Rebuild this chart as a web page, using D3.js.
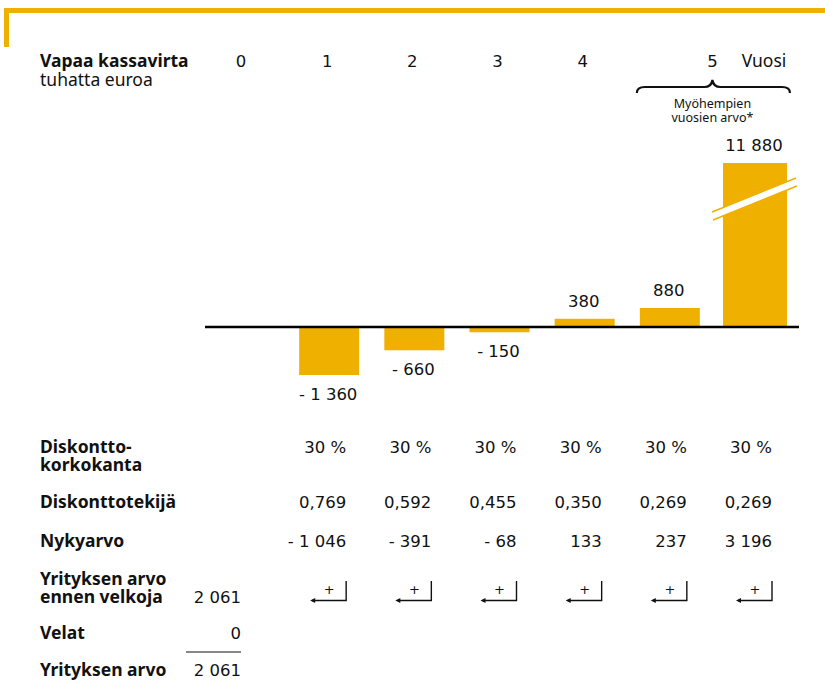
<!DOCTYPE html>
<html><head><meta charset="utf-8">
<script src="https://cdn.jsdelivr.net/npm/d3@7"></script>
<style>
html,body{margin:0;padding:0;background:#fff;}
svg text{font-family:"Noto Sans","Liberation Sans",Arial,sans-serif;fill:#111;}
svg text.num{font-family:"DejaVu Sans","Noto Sans",sans-serif;}
</style></head>
<body>
<svg id="chart" width="825" height="681"></svg>
<script>
// ---- data ----
const columns = ["0", "1", "2", "3", "4", "5", "5+"];
const headerYears = ["0", "1", "2", "3", "4", "5"];
const barColumns = ["1", "2", "3", "4", "5", "5+"];
const cashFlows = [-1360, -660, -150, 380, 880, 11880];
const discountRates = ["30 %", "30 %", "30 %", "30 %", "30 %", "30 %"];
const discountFactors = [0.769, 0.592, 0.455, 0.350, 0.269, 0.269];
const presentValues = [-1046, -391, -68, 133, 237, 3196];
const valueBeforeDebt = 2061;
const debt = 0;
const firmValue = 2061;
const rowLabels = {
  title: "Vapaa kassavirta", unit: "tuhatta euroa", year: "Vuosi",
  later: ["Myöhempien", "vuosien arvo*"],
  rate: ["Diskontto-", "korkokanta"], factor: "Diskonttotekijä",
  pv: "Nykyarvo", before: ["Yrityksen arvo", "ennen velkoja"],
  debt: "Velat", value: "Yrityksen arvo"
};

const GOLD = "#F0B000";
const FS = 17.5, NFS = 16.5;
const fi = d3.formatLocale({decimal: ",", thousands: "\u2009", grouping: [3], currency: ["", " €"], minus: "- "});
const fmtInt = v => fi.format(",d")(v).replace(/\u2009/g, " ");
const fmtDec = fi.format(".3f");

const svg = d3.select("#chart");

// frame
svg.append("line").attr("x1", 4).attr("x2", 825).attr("y1", 10.5).attr("y2", 10.5)
  .attr("stroke", GOLD).attr("stroke-width", 5);
svg.append("line").attr("x1", 6.5).attr("x2", 6.5).attr("y1", 8).attr("y2", 47)
  .attr("stroke", GOLD).attr("stroke-width", 5);

// scales
const x = d3.scalePoint().domain(columns).range([244, 755]);
const y = d3.scaleLinear().domain([-1360, 0, 880, 11880]).range([375, 327, 308, 163]);

// header
const g = svg.append("g");
g.append("text").attr("x", 40).attr("y", 67).attr("font-size", FS).attr("font-weight", "bold")
  .text(rowLabels.title);
g.append("text").attr("x", 40).attr("y", 86).attr("font-size", FS).text(rowLabels.unit);
g.selectAll("text.year").data(headerYears).join("text").attr("class", "year num")
  .attr("x", d => d === "5" ? (x("5") + x("5+")) / 2 : (d === "0" ? x(d) - 3 : x(d) - 2))
  .attr("y", 67).attr("font-size", NFS).attr("text-anchor", "middle").text(d => d);
g.append("text").attr("x", x("5+") + 9).attr("y", 67).attr("font-size", FS).attr("text-anchor", "middle")
  .text(rowLabels.year);

// brace
const bx0 = x("5") - 33, bx1 = x("5+") + 35, bm = (x("5") + x("5+")) / 2, by = 87;
svg.append("path")
  .attr("d", `M${bx0},${by + 6} Q${bx0},${by} ${bx0 + 8},${by} L${bm - 8},${by} Q${bm - 1},${by} ${bm},${by - 7} Q${bm + 1},${by} ${bm + 8},${by} L${bx1 - 8},${by} Q${bx1},${by} ${bx1},${by + 6}`)
  .attr("fill", "none").attr("stroke", "#111").attr("stroke-width", 2.2);
svg.selectAll("text.later").data(rowLabels.later).join("text").attr("class", "later")
  .attr("x", bm).attr("y", (d, i) => 108 + i * 13.5).attr("font-size", 12.5).attr("text-anchor", "middle").text(d => d);

// bars
const bars = barColumns.map((c, i) => ({col: c, v: cashFlows[i]}));
svg.selectAll("rect.bar").data(bars).join("rect").attr("class", "bar")
  .attr("x", d => x(d.col) - (d.col === "5+" ? 32 : 30))
  .attr("width", d => d.col === "5+" ? 64 : 60)
  .attr("y", d => Math.min(y(d.v), y(0)))
  .attr("height", d => Math.abs(y(d.v) - y(0)))
  .attr("fill", GOLD);

// break mark on the tall bar
const bigX = x("5+");
const brk = [[bigX - 43, 216], [bigX + 41, 182]];
svg.append("path")
  .attr("d", `M${brk[0][0]},${brk[0][1] - 4} L${brk[1][0]},${brk[1][1] - 4} L${brk[1][0] + 1},${brk[1][1] + 4} L${brk[0][0] + 1},${brk[0][1] + 4} Z`)
  .attr("fill", "#fff");
[-4, 4].forEach(o => {
  svg.append("line").attr("x1", brk[0][0] + (o > 0 ? 1 : 0)).attr("y1", brk[0][1] + o)
    .attr("x2", brk[1][0] + (o > 0 ? 1 : 0)).attr("y2", brk[1][1] + o)
    .attr("stroke", GOLD).attr("stroke-width", 1.5);
});

// value labels
svg.selectAll("text.val").data(bars).join("text").attr("class", "val num")
  .attr("x", d => x(d.col) - 1)
  .attr("y", d => d.v >= 0 ? y(d.v) - 12 : y(d.v) + 25)
  .attr("font-size", NFS).attr("text-anchor", "middle").text(d => fmtInt(d.v));

// baseline
svg.append("line").attr("x1", 205).attr("x2", 799).attr("y1", y(0)).attr("y2", y(0))
  .attr("stroke", "#000").attr("stroke-width", 2.5);

// table rows
function boldLabel(lines, y0) {
  svg.append("text").attr("x", 40).attr("font-size", FS).attr("font-weight", "bold")
    .selectAll("tspan").data([].concat(lines)).join("tspan")
    .attr("x", 40).attr("y", (d, i) => y0 + i * 18).text(d => d);
}
function rowValues(vals, y0, fmt) {
  svg.append("g").selectAll("text").data(vals).join("text").attr("class", "num")
    .attr("x", (d, i) => x(barColumns[i]) + 17).attr("y", y0)
    .attr("font-size", NFS).attr("text-anchor", "end").text(fmt);
}
function colZero(v, y0) {
  svg.append("text").attr("class", "num").attr("x", x("0") - 3).attr("y", y0)
    .attr("font-size", NFS).attr("text-anchor", "end").text(fmtInt(v));
}
boldLabel(rowLabels.rate, 453);
rowValues(discountRates, 453, d => d);
boldLabel(rowLabels.factor, 508);
rowValues(discountFactors, 508, d => fmtDec(d));
boldLabel(rowLabels.pv, 547);
rowValues(presentValues, 547, d => fmtInt(d));
boldLabel(rowLabels.before, 585);
colZero(valueBeforeDebt, 603);
boldLabel(rowLabels.debt, 639);
colZero(debt, 639);
svg.append("line").attr("x1", 186).attr("x2", x("0") - 3).attr("y1", 652).attr("y2", 652)
  .attr("stroke", "#111").attr("stroke-width", 1.2);
boldLabel(rowLabels.value, 676);
colZero(firmValue, 676);

// summing arrows
const arr = svg.append("g").selectAll("g").data(barColumns).join("g")
  .attr("transform", d => `translate(${x(d) + 17},0)`);
arr.append("path").attr("d", "M0,581 L0,600.5 L-34,600.5")
  .attr("fill", "none").attr("stroke", "#111").attr("stroke-width", 1.4);
arr.append("path").attr("d", "M-36,600.5 L-31,598 L-31,603 Z").attr("fill", "#111");
arr.append("text").attr("class", "num").attr("x", -17).attr("y", 594).attr("font-size", 13).attr("text-anchor", "middle").text("+");
</script>
</body></html>
